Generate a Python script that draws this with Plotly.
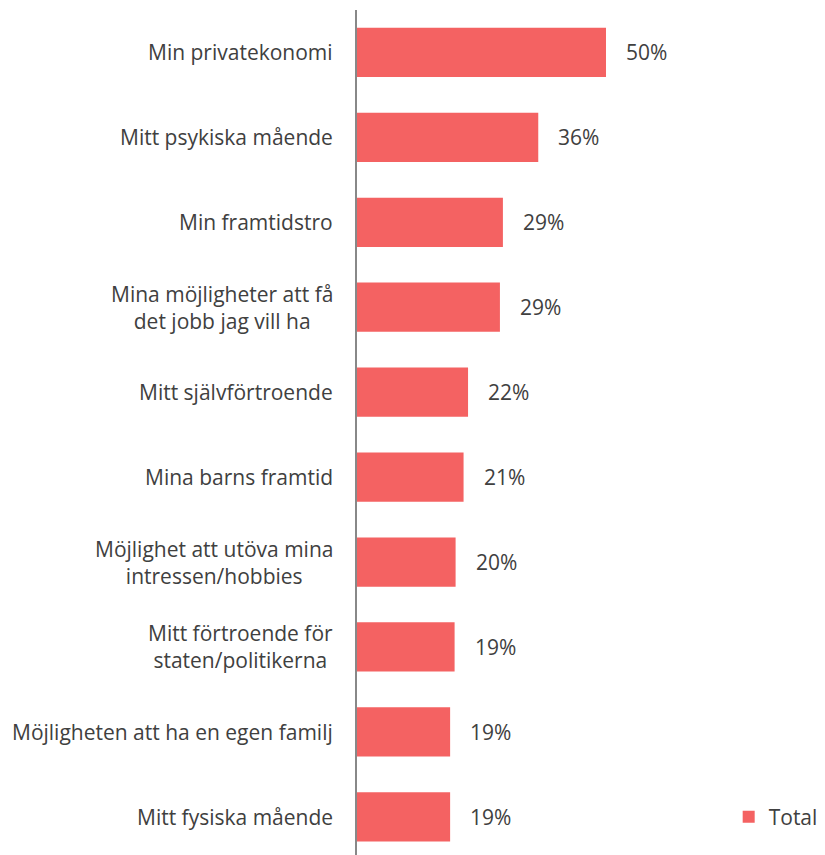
import plotly.graph_objects as go

categories = [
    "Min privatekonomi",
    "Mitt psykiska mående",
    "Min framtidstro",
    "Mina möjligheter att få<br>det jobb jag vill ha",
    "Mitt självförtroende",
    "Mina barns framtid",
    "Möjlighet att utöva mina<br>intressen/hobbies",
    "Mitt förtroende för<br>staten/politikerna",
    "Möjligheten att ha en egen familj",
    "Mitt fysiska mående",
]
values = [50.0, 36.4, 29.3, 28.7, 22.3, 21.4, 19.8, 19.6, 18.7, 18.7]
labels = ["50%", "36%", "29%", "29%", "22%", "21%", "20%", "19%", "19%", "19%"]

bar_color = "#F46262"
text_color = "#404040"
font_family = "'Open Sans', sans-serif"
fsize = 21

fig = go.Figure()
fig.add_trace(go.Bar(
    y=categories, x=values, orientation="h",
    marker=dict(color=bar_color, line=dict(width=0)),
    name="Total", showlegend=True,
))

for cat, v, lab in zip(categories, values, labels):
    fig.add_annotation(x=v, y=cat, xref="x", yref="y", text=lab,
                       showarrow=False, xanchor="left", xshift=18,
                       font=dict(size=fsize, color=text_color, family=font_family))
    fig.add_annotation(x=0, y=cat, xref="x", yref="y", text=cat,
                       showarrow=False, xanchor="right", xshift=-22,
                       align="center",
                       font=dict(size=fsize, color=text_color, family=font_family))

# page body has an 8px margin, so the figure is sized to fit the window
fig.update_layout(
    width=817, height=847,
    margin=dict(l=349, r=100, t=2, b=0),
    plot_bgcolor="white", paper_bgcolor="white",
    bargap=0.42,
    font=dict(family=font_family, size=fsize, color=text_color),
    xaxis=dict(range=[0, 73.9], showgrid=False, zeroline=False,
               showticklabels=False, showline=False),
    yaxis=dict(range=[9.45, -0.5], showgrid=False, zeroline=False,
               showticklabels=False, showline=True, linecolor="#888888",
               linewidth=2, ticks=""),
    legend=dict(x=1.01, y=0.045, xanchor="left", yanchor="middle",
                font=dict(size=fsize, color=text_color, family=font_family),
                bgcolor="rgba(0,0,0,0)", itemwidth=30),
)

fig.write_html("out.html")
